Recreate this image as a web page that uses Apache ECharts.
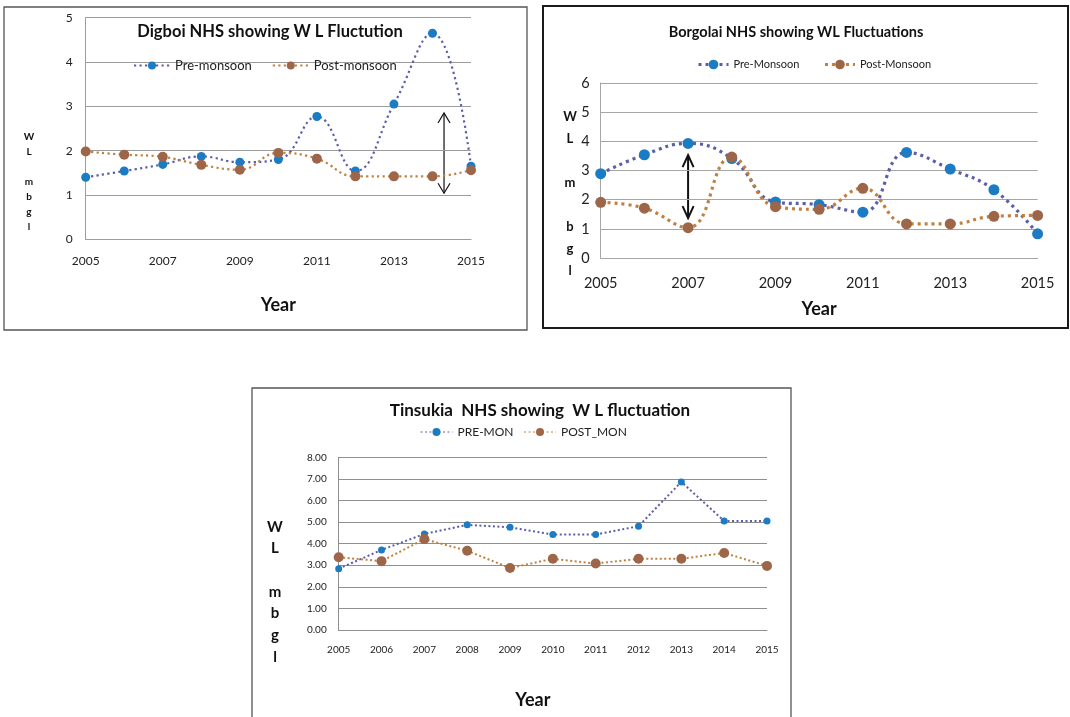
<!DOCTYPE html>
<html><head><meta charset="utf-8">
<script src="https://cdn.jsdelivr.net/npm/echarts@6/dist/echarts.min.js"></script>
<style>html,body{margin:0;padding:0;background:#fff}#c{width:1070px;height:717px}</style>
</head><body><div id="c"></div>
<script>
// ---------------- data ----------------
const years = ['2005','2006','2007','2008','2009','2010','2011','2012','2013','2014','2015'];
const digboiPre    = [1.40,1.54,1.69,1.87,1.74,1.80,2.77,1.54,3.05,4.65,1.65];
const digboiPost   = [1.98,1.91,1.86,1.68,1.57,1.95,1.82,1.42,1.42,1.42,1.56];
const borgolaiPre  = [2.89,3.54,3.93,3.41,1.92,1.83,1.57,3.62,3.05,2.34,0.83];
const borgolaiPost = [1.91,1.71,1.04,3.46,1.76,1.67,2.39,1.17,1.17,1.43,1.46];
const tinsukiaPre  = [2.84,3.71,4.45,4.87,4.76,4.42,4.42,4.81,6.86,5.05,5.05];
const tinsukiaPost = [3.37,3.19,4.21,3.67,2.87,3.30,3.08,3.30,3.30,3.57,2.97];
const digboiYTicks   = [0,1,2,3,4,5];
const borgolaiYTicks = [0,1,2,3,4,5,6];
const tinsukiaYTicks = [0,1,2,3,4,5,6,7,8];
const titles = ['Digboi NHS showing W L Fluctution','Borgolai NHS showing WL Fluctuations','Tinsukia  NHS showing  W L fluctuation'];
const seriesNames = [['Pre-monsoon','Post-monsoon'],['Pre-Monsoon','Post-Monsoon'],['PRE-MON','POST_MON']];
const yAxisLetters = ['W','L','','m','b','g','l'];
const yAxisLetters2 = ['W','L','','m','','b','g','l'];
const xAxisTitle = 'Year';
// fluctuation arrows: [category position (index), from value, to value]
const digboiArrow   = [9.3, 2.85, 1.04];
const borgolaiArrow = [2, 3.53, 1.37];

// ---------------- layout / style ----------------
const LATO = 'Lato, "Open Sans", sans-serif';
const PRE_LINE = '#5b5ea8', PRE_MARK = '#1b7bc3', POST_LINE = '#c0803f', POST_MARK = '#9e6649';

const panels = [
  { pre: digboiPre, post: digboiPost, ticks: digboiYTicks, names: seriesNames[0], title: titles[0],
    box: [4, 7, 523, 323], boxStroke: '#555', boxW: 1.3,
    grid: {left: 85.7, top: 17.7, width: 385.3, height: 221.6},
    titleSize: 16.5, titleCx: 270, titleCy: 33,
    tickSize: 12, ylMargin: 13, xlMargin: 16, labelInterval: 1, fmt: v => String(v),
    legend: {left: 133, top: 59, itemWidth: 36, itemHeight: 10, itemGap: 20, size: 13, lw: 2},
    lineW: 2.2, dash: [2.2, 3.3], preSym: 9, postSym: 10, smooth: 0.45,
    yearSize: 18, yearGap: 57, yearPad: [0,0,0,0],
    letters: yAxisLetters, letX: 29, letTop: 129.5, letLH: 15, letSize: 10,
    gridColor: '#9c9c9c', arrow: digboiArrow, arrowW: 1.2, arrowHW: 6, arrowHL: 10 },
  { pre: borgolaiPre, post: borgolaiPost, ticks: borgolaiYTicks, names: seriesNames[1], title: titles[1],
    box: [543, 6, 525, 322], boxStroke: '#1a1a1a', boxW: 2,
    grid: {left: 600.7, top: 83, width: 436.9, height: 175},
    titleSize: 14.5, titleCx: 796, titleCy: 34,
    tickSize: 14.5, ylMargin: 11, xlMargin: 18, labelInterval: 1, fmt: v => String(v),
    legend: {left: 697, top: 59, itemWidth: 30, itemHeight: 12, itemGap: 24, size: 11, lw: 3},
    lineW: 3.2, dash: [3, 4], preSym: 11, postSym: 11, smooth: 0.45,
    yearSize: 18, yearGap: 42, yearPad: [0,0,0,0],
    letters: yAxisLetters2, letX: 570, letTop: 106, letLH: 22, letSize: 13,
    gridColor: '#a6a6a6', arrow: borgolaiArrow, arrowW: 2, arrowHW: 5.5, arrowHL: 12 },
  { pre: tinsukiaPre, post: tinsukiaPost, ticks: tinsukiaYTicks, names: seriesNames[2], title: titles[2],
    box: [252, 388, 539, 340], boxStroke: '#555', boxW: 1.3,
    grid: {left: 338.7, top: 457.3, width: 428.3, height: 172.7},
    titleSize: 17, titleCx: 540, titleCy: 412,
    tickSize: 10, ylMargin: 12, xlMargin: 15, labelInterval: 0, fmt: v => v.toFixed(2),
    legend: {left: 420, top: 426, itemWidth: 32, itemHeight: 10, itemGap: 10, size: 12, lw: 1},
    lineW: 2, dash: [2, 2.5], preSym: 7, postSym: 10, smooth: false,
    yearSize: 18, yearGap: 61, yearPad: [0, 40, 0, 0],
    letters: yAxisLetters, letX: 275, letTop: 516, letLH: 21.7, letSize: 15,
    gridColor: '#8f8f8f', arrow: null }
];

function textWidth(t, font) {
  const c = document.createElement('canvas').getContext('2d');
  c.font = font; return c.measureText(t).width;
}

const chart = echarts.init(document.getElementById('c'));
const option = {animation: false, title: [], legend: [], grid: [], xAxis: [], yAxis: [], series: [], graphic: []};

panels.forEach((p, i) => {
  const tw = textWidth(p.title, 'bold ' + p.titleSize + 'px ' + LATO);
  option.title.push({text: p.title, left: p.titleCx - tw / 2, top: p.titleCy - p.titleSize * 0.6, padding: 0,
    textStyle: {fontFamily: LATO, fontWeight: 'bold', fontSize: p.titleSize, color: '#111'}});
  option.grid.push(Object.assign({containLabel: false}, p.grid));
  option.legend.push({data: p.names, left: p.legend.left, top: p.legend.top, padding: 0,
    itemWidth: p.legend.itemWidth, itemHeight: p.legend.itemHeight, itemGap: p.legend.itemGap,
    lineStyle: {width: p.legend.lw},
    textStyle: {fontFamily: LATO, fontSize: p.legend.size, color: '#222'}});
  option.xAxis.push({type: 'category', gridIndex: i, data: years, boundaryGap: false,
    axisLine: {lineStyle: {color: p.gridColor, width: 1}}, axisTick: {show: false},
    axisLabel: {interval: p.labelInterval, margin: p.xlMargin, color: '#222', fontFamily: LATO, fontSize: p.tickSize},
    name: xAxisTitle, nameLocation: 'middle', nameGap: p.yearGap,
    nameTextStyle: {fontFamily: LATO, fontWeight: 'bold', fontSize: p.yearSize, color: '#111', padding: p.yearPad}});
  option.yAxis.push({type: 'value', gridIndex: i, min: p.ticks[0], max: p.ticks[p.ticks.length - 1],
    interval: p.ticks[1] - p.ticks[0],
    axisLine: {show: true, lineStyle: {color: p.gridColor, width: 1}}, axisTick: {show: false},
    axisLabel: {margin: p.ylMargin, color: '#222', fontFamily: LATO, fontSize: p.tickSize, formatter: p.fmt},
    splitLine: {lineStyle: {color: p.gridColor, width: 1.2}}});
  [[p.pre, PRE_LINE, PRE_MARK, p.preSym, 0], [p.post, POST_LINE, POST_MARK, p.postSym, 1]].forEach(s => {
    option.series.push({type: 'line', name: p.names[s[4]], xAxisIndex: i, yAxisIndex: i, data: s[0],
      smooth: p.smooth, symbol: 'circle', symbolSize: s[3], z: 3 + s[4],
      lineStyle: {color: s[1], width: p.lineW, type: p.dash, cap: 'butt'},
      itemStyle: {color: s[2]}});
  });
  option.graphic.push({type: 'rect', silent: true, shape: {x: p.box[0], y: p.box[1], width: p.box[2], height: p.box[3]},
    style: {fill: 'none', stroke: p.boxStroke, lineWidth: p.boxW}});
  option.graphic.push({type: 'text', silent: true, x: p.letX, y: p.letTop,
    style: {text: p.letters.join('\n'), align: 'center', verticalAlign: 'top', lineHeight: p.letLH,
      font: 'bold ' + p.letSize + 'px ' + LATO, fill: '#111'}});
});

chart.setOption(option);

function catPixel(gi, pos, val) {
  const i0 = Math.floor(pos), t = pos - i0;
  const a = chart.convertToPixel({gridIndex: gi}, [years[i0], val]);
  if (t === 0) return a;
  const b = chart.convertToPixel({gridIndex: gi}, [years[i0 + 1], val]);
  return [a[0] + (b[0] - a[0]) * t, a[1]];
}
panels.forEach((p, i) => {
  if (!p.arrow) return;
  const top = catPixel(i, p.arrow[0], p.arrow[1]);
  const bot = catPixel(i, p.arrow[0], p.arrow[2]);
  const st = {stroke: '#111', lineWidth: p.arrowW, fill: 'none'};
  option.graphic.push({type: 'line', silent: true, shape: {x1: top[0], y1: top[1], x2: bot[0], y2: bot[1]}, style: st});
  option.graphic.push({type: 'polyline', silent: true, shape: {points: [[top[0] - p.arrowHW, top[1] + p.arrowHL], top, [top[0] + p.arrowHW, top[1] + p.arrowHL]]}, style: st});
  option.graphic.push({type: 'polyline', silent: true, shape: {points: [[bot[0] - p.arrowHW, bot[1] - p.arrowHL], bot, [bot[0] + p.arrowHW, bot[1] - p.arrowHL]]}, style: st});
});
chart.setOption(option);
</script>
</body></html>
